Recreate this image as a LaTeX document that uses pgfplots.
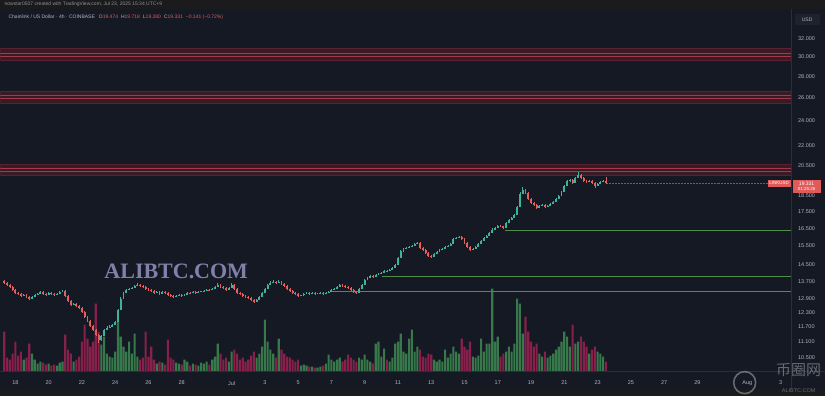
\documentclass[border=0pt]{standalone}
\usepackage{pgfplots}
\pgfplotsset{compat=1.18}
\usepackage{pgfplotstable}
\usepackage{fontspec}
\setmainfont{Liberation Sans}
\newfontfamily\wmfont{Liberation Serif}
\newfontfamily\cjk{Noto Sans CJK SC}
\definecolor{bg}{HTML}{151924}
\definecolor{hdr}{HTML}{1B1B1D}
\definecolor{up}{HTML}{3DB39E}
\definecolor{dn}{HTML}{E2605E}
\definecolor{vup}{HTML}{3E8A52}
\definecolor{vdn}{HTML}{9C2252}
\definecolor{band}{HTML}{3C1A25}
\definecolor{bandedge}{HTML}{5A2230}
\definecolor{bandline}{HTML}{A03C4C}
\definecolor{gline}{HTML}{4E8E48}
\definecolor{txt}{HTML}{B2B5BE}
\definecolor{sep}{HTML}{2A2E39}
\definecolor{tagred}{HTML}{E05A5A}
\definecolor{usdbox}{HTML}{1E222D}
\definecolor{wm}{HTML}{9394C0}

\pgfplotstableread{
o h l c v
13.700 13.760 13.600 13.632 40
13.632 13.660 13.500 13.537 14
13.537 13.570 13.410 13.443 12
13.443 13.460 13.280 13.303 18
13.303 13.320 13.120 13.164 30
13.164 13.200 13.080 13.118 16
13.118 13.150 12.990 13.027 20
13.027 13.110 13.000 13.073 12
13.073 13.090 12.950 12.982 14
12.982 13.000 12.850 12.892 28
12.892 13.010 12.870 12.982 18
12.982 13.100 12.960 13.073 12
13.073 13.150 13.050 13.118 8
13.118 13.240 13.100 13.211 10
13.211 13.230 13.090 13.118 9
13.118 13.140 13.040 13.073 7
13.073 13.190 13.060 13.164 8
13.164 13.180 13.100 13.118 6
13.118 13.130 13.050 13.073 7
13.073 13.140 13.060 13.118 6
13.118 13.230 13.100 13.211 9
13.211 13.300 13.190 13.257 10
13.257 13.270 13.000 13.027 37
13.027 13.040 12.770 12.802 22
12.802 12.820 12.590 12.624 18
12.624 12.700 12.600 12.668 10
12.668 12.690 12.550 12.580 12
12.580 12.600 12.460 12.493 15
12.493 12.510 12.290 12.320 30
12.320 12.340 12.070 12.106 47
12.106 12.130 11.900 11.938 33
11.938 11.960 11.700 11.732 25
11.732 11.750 11.520 11.570 30
11.570 11.600 11.320 11.368 68
11.368 11.390 11.050 11.171 40
11.171 11.360 11.120 11.329 27
11.329 11.600 11.300 11.570 35
11.570 11.700 11.540 11.651 18
11.651 11.740 11.620 11.692 15
11.692 11.800 11.660 11.773 14
11.773 11.930 11.750 11.896 20
11.896 12.450 11.880 12.406 50
12.406 12.950 12.380 12.892 35
12.892 13.200 12.860 13.164 25
13.164 13.350 13.140 13.303 20
13.303 13.400 13.270 13.350 30
13.350 13.430 13.320 13.396 18
13.396 13.530 13.370 13.490 38
13.490 13.600 13.470 13.537 15
13.537 13.560 13.460 13.490 12
13.490 13.510 13.420 13.443 14
13.443 13.460 13.320 13.350 40
13.350 13.370 13.280 13.303 15
13.303 13.330 13.230 13.257 25
13.257 13.270 13.140 13.164 12
13.164 13.240 13.150 13.211 8
13.211 13.230 13.090 13.118 10
13.118 13.240 13.100 13.211 9
13.211 13.230 13.140 13.164 7
13.164 13.180 13.050 13.073 32
13.073 13.090 13.000 13.027 14
13.027 13.040 12.950 12.982 12
12.982 13.060 12.960 13.027 9
13.027 13.100 13.010 13.073 8
13.073 13.090 13.000 13.027 7
13.027 13.100 13.010 13.073 12
13.073 13.190 13.060 13.164 10
13.164 13.200 13.120 13.150 6
13.150 13.240 13.130 13.211 8
13.211 13.230 13.140 13.164 7
13.164 13.240 13.150 13.211 6
13.211 13.260 13.190 13.230 9
13.230 13.290 13.210 13.257 8
13.257 13.340 13.240 13.303 10
13.303 13.330 13.260 13.290 7
13.290 13.380 13.270 13.350 12
13.350 13.480 13.330 13.443 15
13.443 13.620 13.420 13.537 28
13.537 13.560 13.420 13.443 18
13.443 13.470 13.370 13.396 12
13.396 13.420 13.280 13.303 14
13.303 13.430 13.290 13.396 10
13.396 13.600 13.380 13.537 20
13.537 13.560 13.330 13.350 22
13.350 13.370 13.140 13.164 18
13.164 13.190 13.090 13.118 12
13.118 13.140 13.000 13.027 14
13.027 13.050 12.950 12.982 10
12.982 13.000 12.910 12.937 12
12.937 12.960 12.820 12.847 16
12.847 12.870 12.720 12.757 20
12.757 12.880 12.740 12.847 14
12.847 13.010 12.830 12.982 18
12.982 13.200 12.960 13.164 25
13.164 13.400 13.140 13.350 52
13.350 13.580 13.330 13.537 30
13.537 13.700 13.510 13.632 22
13.632 13.760 13.600 13.680 18
13.680 13.720 13.600 13.632 14
13.632 13.740 13.610 13.680 33
13.680 13.700 13.560 13.585 22
13.585 13.600 13.470 13.490 18
13.490 13.510 13.330 13.350 15
13.350 13.370 13.230 13.257 14
13.257 13.280 13.140 13.164 12
13.164 13.180 13.090 13.118 10
13.118 13.140 13.000 13.027 12
13.027 13.070 13.000 13.040 6
13.040 13.140 13.020 13.118 7
13.118 13.190 13.100 13.164 6
13.164 13.180 13.100 13.118 5
13.118 13.190 13.100 13.164 5
13.164 13.180 13.100 13.118 4
13.118 13.160 13.100 13.130 4
13.130 13.190 13.110 13.164 5
13.164 13.180 13.100 13.118 6
13.118 13.190 13.100 13.164 8
13.164 13.240 13.150 13.211 17
13.211 13.340 13.190 13.303 12
13.303 13.380 13.280 13.350 10
13.350 13.470 13.330 13.443 12
13.443 13.580 13.420 13.537 14
13.537 13.560 13.470 13.490 10
13.490 13.510 13.420 13.443 12
13.443 13.460 13.370 13.396 17
13.396 13.410 13.280 13.303 14
13.303 13.320 13.190 13.211 12
13.211 13.230 13.130 13.164 10
13.164 13.380 13.150 13.350 14
13.350 13.570 13.330 13.537 12
13.537 13.820 13.520 13.775 17
13.775 13.910 13.750 13.872 12
13.872 14.020 13.850 13.969 10
13.969 14.000 13.890 13.920 8
13.920 14.060 13.900 14.018 28
14.018 14.120 13.990 14.067 30
14.067 14.160 14.040 14.116 15
14.116 14.260 14.090 14.215 23
14.215 14.250 14.170 14.200 12
14.200 14.300 14.180 14.265 10
14.265 14.400 14.240 14.365 14
14.365 14.560 14.340 14.516 28
14.516 14.920 14.500 14.876 30
14.876 15.300 14.850 15.244 38
15.244 15.400 15.200 15.350 20
15.350 15.450 15.320 15.404 18
15.404 15.500 15.370 15.458 33
15.458 15.560 15.430 15.512 42
15.512 15.670 15.480 15.621 20
15.621 15.740 15.590 15.676 25
15.676 15.700 15.370 15.404 22
15.404 15.430 15.260 15.297 15
15.297 15.320 15.100 15.138 14
15.138 15.160 14.940 14.980 18
14.980 15.010 14.880 14.928 17
14.928 15.120 14.900 15.085 12
15.085 15.230 15.060 15.191 10
15.191 15.340 15.170 15.297 12
15.297 15.390 15.270 15.350 10
15.350 15.500 15.320 15.458 22
15.458 15.560 15.430 15.512 14
15.512 15.670 15.490 15.621 18
15.621 15.950 15.600 15.896 25
15.896 16.010 15.860 15.952 20
15.952 16.080 15.920 16.008 18
16.008 16.040 15.860 15.896 33
15.896 15.920 15.640 15.676 25
15.676 15.700 15.420 15.458 22
15.458 15.480 15.230 15.297 30
15.297 15.400 15.260 15.350 15
15.350 15.500 15.320 15.458 14
15.458 15.660 15.430 15.621 16
15.621 15.830 15.600 15.786 33
15.786 16.000 15.760 15.952 20
15.952 16.110 15.920 16.064 28
16.064 16.280 16.040 16.233 28
16.233 16.520 16.200 16.404 83
16.404 16.570 16.370 16.519 30
16.519 16.700 16.490 16.635 35
16.635 16.680 16.570 16.610 15
16.610 16.650 16.480 16.519 18
16.519 16.850 16.500 16.810 20
16.810 17.040 16.780 16.987 25
16.987 17.160 16.960 17.106 20
17.106 17.330 17.080 17.286 28
17.286 17.850 17.260 17.776 73
17.776 18.700 17.750 18.601 68
18.601 19.070 18.560 18.863 38
18.863 18.950 18.600 18.667 55
18.667 18.700 18.200 18.279 40
18.279 18.320 17.960 18.026 30
18.026 18.060 17.850 17.900 25
17.900 17.940 17.650 17.714 28
17.714 17.880 17.690 17.838 18
17.838 17.950 17.800 17.900 15
17.900 17.930 17.740 17.776 20
17.776 17.880 17.740 17.838 14
17.838 18.000 17.810 17.963 16
17.963 18.130 17.940 18.089 18
18.089 18.320 18.060 18.279 22
18.279 18.520 18.250 18.472 25
18.472 18.780 18.440 18.732 30
18.732 19.180 18.700 19.129 40
19.129 19.520 19.100 19.466 35
19.466 19.600 19.420 19.534 25
19.534 19.570 19.280 19.331 47
19.331 19.720 19.300 19.671 28
19.671 20.080 19.640 19.878 30
19.878 19.920 19.620 19.671 35
19.671 19.700 19.420 19.466 30
19.466 19.500 19.300 19.398 25
19.398 19.520 19.370 19.466 18
19.466 19.500 19.280 19.331 22
19.331 19.360 19.000 19.129 25
19.129 19.310 19.090 19.263 20
19.263 19.440 19.230 19.398 18
19.398 19.520 19.360 19.474 15
19.474 19.718 19.280 19.331 10
}\candles

\pgfplotsset{
  chartbox/.style={at={(0bp,24bp)}, anchor=south west, width=792bp, height=344bp,
    scale only axis, xmin=17.099, xmax=64.667},
  candle/.style={draw=none, mark=none, forget plot, unbounded coords=discard,
    error bars/y dir=both, error bars/y explicit, error bars/error mark=none},
  zone/.style={fill=band, draw=bandedge, line width=0.5bp},
  zoneline/.style={draw=bandline, line width=0.8bp},
  support/.style={draw=gline, line width=0.9bp},
}

\begin{document}
\begin{tikzpicture}
\fill[bg] (0bp,0bp) rectangle (825bp,396bp);
\fill[hdr] (0bp,387bp) rectangle (825bp,396bp);
\fill[hdr] (0bp,0bp) rectangle (825bp,7bp);

% volume pane
\begin{axis}[chartbox, hide axis, ymin=0, ymax=344]
\addplot[ybar, bar width=2.1bp, bar shift=0pt, fill=vup, draw=none, fill opacity=0.85,
  restrict expr to domain={\thisrow{c}-\thisrow{o}}{0:100}, unbounded coords=discard]
  table[x expr=17.3333+\coordindex/6, y=v] {\candles};
\addplot[ybar, bar width=2.1bp, bar shift=0pt, fill=vdn, draw=none, fill opacity=0.85,
  restrict expr to domain={\thisrow{c}-\thisrow{o}}{-100:-0.0001}, unbounded coords=discard]
  table[x expr=17.3333+\coordindex/6, y=v] {\candles};
\end{axis}

% price pane (linear in ln(price): the price axis is logarithmic)
\begin{axis}[chartbox, ymin=2.301585, ymax=3.503052,
  y filter/.expression={ln(y)},
  axis line style={draw=none}, major tick length=0pt,
  ytick={2.351375,2.406945,2.459589,2.509599,2.557227,2.617396,2.674149,2.740840,2.803360,2.862201,2.917771,3.020425,3.091042,3.178054,3.258097,3.332205,3.401197,3.465736},
  yticklabels={10.500,11.100,11.700,12.300,12.900,13.700,14.500,15.500,16.500,17.500,18.500,20.500,22.000,24.000,26.000,28.000,30.000,32.000},
  yticklabel pos=right,
  yticklabel style={font=\fontsize{5.5bp}{6bp}\selectfont, text=txt, xshift=3bp},
  xtick={18,20,22,24,26,28,31,33,35,37,39,41,43,45,47,49,51,53,55,57,59,62,64},
  xticklabels={18,20,22,24,26,28,Jul,3,5,7,9,11,13,15,17,19,21,23,25,27,29,Aug,3},
  xticklabel style={font=\fontsize{5.5bp}{6bp}\selectfont, text=txt, yshift=-6bp},
  clip=true]
% resistance zones
\addplot[zone] coordinates {(17.099,29.706) (64.667,29.706) (64.667,30.977) (17.099,30.977) (17.099,29.706)};
\addplot[zoneline] coordinates {(17.099,30.409) (64.667,30.409)};
\addplot[zoneline] coordinates {(17.099,30.123) (64.667,30.123)};
\addplot[zone] coordinates {(17.099,25.563) (64.667,25.563) (64.667,26.657) (17.099,26.657) (17.099,25.563)};
\addplot[zoneline] coordinates {(17.099,26.287) (64.667,26.287)};
\addplot[zoneline] coordinates {(17.099,25.986) (64.667,25.986)};
\addplot[zone] coordinates {(17.099,19.878) (64.667,19.878) (64.667,20.657) (17.099,20.657) (17.099,19.878)};
\addplot[zoneline] coordinates {(17.099,20.335) (64.667,20.335)};
\addplot[zoneline] coordinates {(17.099,20.123) (64.667,20.123)};
% support lines
\addplot[support] coordinates {(47.43,16.347) (64.667,16.347)};
\addplot[support] coordinates {(40.04,13.920) (64.667,13.920)};
\addplot[support] coordinates {(36.92,13.211) (64.667,13.211)};
% last price line
\addplot[draw=tagred!70!bg, densely dotted, line width=0.5bp] coordinates {(53.5,19.331) (64.667,19.331)};
% wicks
\addplot[candle, restrict expr to domain={\thisrow{c}-\thisrow{o}}{0:100},
  error bars/error bar style={draw=up, line width=0.55bp}]
  table[x expr=17.3333+\coordindex/6, y=c, y error plus expr=ln(\thisrow{h})-ln(\thisrow{c}), y error minus expr=ln(\thisrow{c})-ln(\thisrow{l})] {\candles};
\addplot[candle, restrict expr to domain={\thisrow{c}-\thisrow{o}}{-100:-0.0001},
  error bars/error bar style={draw=dn, line width=0.55bp}]
  table[x expr=17.3333+\coordindex/6, y=c, y error plus expr=ln(\thisrow{h})-ln(\thisrow{c}), y error minus expr=ln(\thisrow{c})-ln(\thisrow{l})] {\candles};
% bodies
\addplot[candle, restrict expr to domain={\thisrow{c}-\thisrow{o}}{0:100},
  error bars/error bar style={draw=up, line width=1.9bp}]
  table[x expr=17.3333+\coordindex/6, y=c, y error plus expr=0, y error minus expr=ln(\thisrow{c})-ln(\thisrow{o})] {\candles};
\addplot[candle, restrict expr to domain={\thisrow{c}-\thisrow{o}}{-100:-0.0001},
  error bars/error bar style={draw=dn, line width=1.9bp}]
  table[x expr=17.3333+\coordindex/6, y=c, y error plus expr=ln(\thisrow{o})-ln(\thisrow{c}), y error minus expr=0] {\candles};
\end{axis}

% separators
\draw[sep, line width=0.8bp] (792bp,7bp) -- (792bp,387bp);
\draw[sep, line width=0.8bp] (0bp,24bp) -- (825bp,24bp);

% header
\node[anchor=west, inner sep=0, text=txt!80!black, font=\fontsize{5bp}{6bp}\selectfont] at (4bp,391.5bp)
  {nowstar0507 created with TradingView.com, Jul 23, 2025 15:34 UTC+9};
\node[anchor=west, inner sep=0, font=\fontsize{5bp}{6bp}\selectfont] at (8bp,378.5bp)
  {\color{txt}Chainlink / US Dollar · 4h · COINBASE\hspace{4bp}%
   O{\color{tagred}19.474}\hspace{3bp}H{\color{tagred}19.718}\hspace{3bp}L{\color{tagred}19.280}\hspace{3bp}C{\color{tagred}19.331}\hspace{3bp}{\color{tagred}−0.141 (−0.72\%)}};

% USD box
\fill[usdbox] (795bp,371bp) rectangle (820bp,382bp);
\node[text=txt, font=\fontsize{5bp}{6bp}\selectfont, inner sep=0] at (807.5bp,376.5bp) {USD};

% price tags
\fill[tagred] (768bp,209bp) rectangle (791bp,216bp);
\node[text=white, font=\fontsize{4.5bp}{5bp}\selectfont, inner sep=0] at (779.5bp,212.5bp) {LINKUSD};
\fill[tagred] (793bp,203bp) rectangle (821bp,216bp);
\node[text=white, font=\fontsize{5bp}{6bp}\selectfont, inner sep=0] at (807bp,212.5bp) {19.331};
\node[text=white, font=\fontsize{4.5bp}{5bp}\selectfont, inner sep=0] at (807bp,206.5bp) {01:25:26};

% watermarks
\node[text=wm, font=\wmfont\bfseries\fontsize{22bp}{24bp}\selectfont, inner sep=0, opacity=0.85] at (176bp,124bp) {ALIBTC.COM};
\draw[white, opacity=0.35, line width=1.6bp] (745bp,13bp) circle (11bp);
\node[text=white, opacity=0.35, font=\cjk\fontsize{15bp}{17bp}\selectfont, inner sep=0] at (799bp,26bp) {币圈网};
\node[text=white, opacity=0.35, font=\fontsize{5.5bp}{6bp}\selectfont, inner sep=0] at (799bp,5bp) {ALIBTC.COM};
\end{tikzpicture}
\end{document}
